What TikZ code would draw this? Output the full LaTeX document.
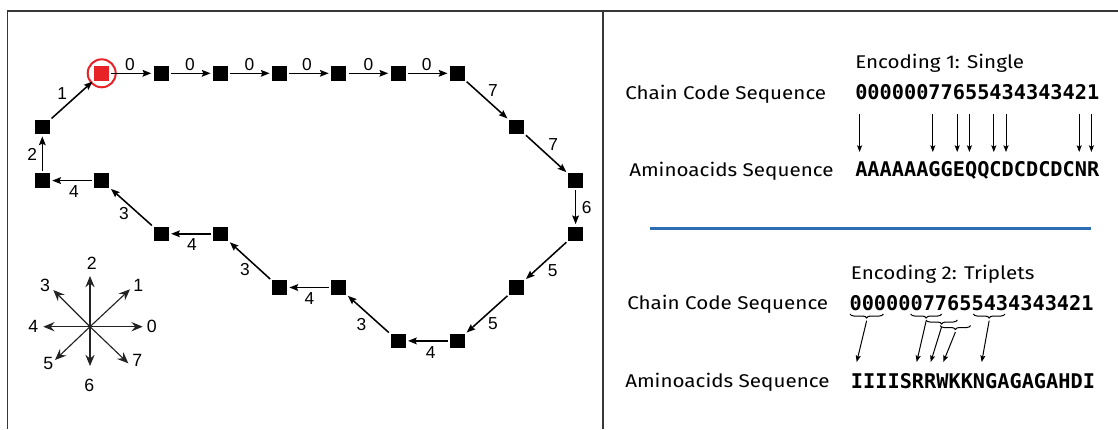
\documentclass[tikz,border=0pt]{standalone}
\usepackage{fontspec}
\setmainfont{Liberation Sans}
\newfontfamily\rsans[FakeStretch=1.12]{Fira Sans}
\newfontfamily\rmono{DejaVu Sans Mono}
\usetikzlibrary{arrows.meta,decorations.pathreplacing}
\definecolor{redc}{RGB}{232,35,40}
\definecolor{bluec}{RGB}{46,109,180}
\definecolor{framec}{RGB}{55,55,55}
\definecolor{compc}{RGB}{35,35,35}
\begin{document}
\begin{tikzpicture}[x=0.75pt,y=-0.75pt,
  sq/.style={fill=black,minimum width=11.25pt,minimum height=10.8pt,inner sep=0pt,outer sep=0pt},
  redsq/.style={fill=redc,minimum width=11pt,minimum height=11pt,inner sep=0pt,outer sep=0pt},
  chainarrow/.style={line width=1.15pt,-{Stealth[length=6.5pt,width=5pt,inset=1pt]},shorten <=1.8pt,shorten >=1.8pt},
  lbl/.style={font=\fontsize{13}{15}\selectfont,inner sep=0pt},
  clbl/.style={font=\fontsize{13.3}{15}\selectfont,inner sep=0pt},
  comp/.style={line width=0.85pt,draw=compc,-{Stealth[length=8.5pt,width=7pt,inset=3pt]}},
  frame/.style={line width=1.1pt,draw=framec},
  rtext/.style={font=\rsans\fontsize{13.8}{15}\selectfont,inner sep=0pt,anchor=base west},
  mtext/.style={font=\rmono\bfseries\fontsize{15.2}{17}\selectfont,inner sep=0pt,anchor=base west},
  encarrow/.style={line width=0.75pt,-{Stealth[length=5pt,width=3.8pt,inset=1pt]}},
  brc/.style={line width=0.75pt,decorate,decoration={brace,mirror,amplitude=3pt}}]
\useasboundingbox (0,0) rectangle (1118,429);

% frames
\draw[frame] (7.5,429) -- (7.5,11) -- (1118,11);
\draw[frame] (603,11) -- (603,429);

% chain nodes
\node[redsq] (n0) at (101.7,73.3) {};
\node[draw=redc,line width=1.5pt,circle,minimum size=21pt,inner sep=0pt] (c0) at (n0) {};
\node[sq] (n1) at (161.2,73.3) {};
\node[sq] (n2) at (220.5,73.3) {};
\node[sq] (n3) at (279.5,73.3) {};
\node[sq] (n4) at (338.6,73.3) {};
\node[sq] (n5) at (398.1,73.3) {};
\node[sq] (n6) at (457.4,73.3) {};
\node[sq] (n7) at (516.7,126.8) {};
\node[sq] (n8) at (575.6,180.6) {};
\node[sq] (n9) at (575.6,233.8) {};
\node[sq] (n10) at (516.7,287.5) {};
\node[sq] (n11) at (457.4,340.9) {};
\node[sq] (n12) at (398.1,340.9) {};
\node[sq] (n13) at (338.6,287.5) {};
\node[sq] (n14) at (279.5,287.5) {};
\node[sq] (n15) at (220.5,233.8) {};
\node[sq] (n16) at (161.2,233.8) {};
\node[sq] (n17) at (101.7,180.6) {};
\node[sq] (n18) at (42.3,180.6) {};
\node[sq] (n19) at (42.3,126.8) {};

% chain arrows
\draw[chainarrow] (n0) -- (n1) node[lbl,midway,shift={(-1.5,-8.5)}] {0};
\draw[chainarrow] (n1) -- (n2) node[lbl,midway,shift={(-1,-8.5)}] {0};
\draw[chainarrow] (n2) -- (n3) node[lbl,midway,shift={(-0.5,-8.5)}] {0};
\draw[chainarrow] (n3) -- (n4) node[lbl,midway,shift={(-2,-8.5)}] {0};
\draw[chainarrow] (n4) -- (n5) node[lbl,midway,shift={(0,-8.5)}] {0};
\draw[chainarrow] (n5) -- (n6) node[lbl,midway,shift={(-1,-8.5)}] {0};
\draw[chainarrow] (n6) -- (n7) node[lbl,midway,shift={(6,-10)}] {7};
\draw[chainarrow] (n7) -- (n8) node[lbl,midway,shift={(7,-9)}] {7};
\draw[chainarrow] (n8) -- (n9) node[lbl,midway,shift={(11,0)}] {6};
\draw[chainarrow] (n9) -- (n10) node[lbl,midway,shift={(6.5,10)}] {5};
\draw[chainarrow] (n10) -- (n11) node[lbl,midway,shift={(6,9)}] {5};
\draw[chainarrow] (n11) -- (n12) node[lbl,midway,shift={(3,11.5)}] {4};
\draw[chainarrow] (n12) -- (n13) node[lbl,midway,shift={(-7,10)}] {3};
\draw[chainarrow] (n13) -- (n14) node[lbl,midway,shift={(0.5,11.5)}] {4};
\draw[chainarrow] (n14) -- (n15) node[lbl,midway,shift={(-5,9)}] {3};
\draw[chainarrow] (n15) -- (n16) node[lbl,midway,shift={(1,11)}] {4};
\draw[chainarrow] (n16) -- (n17) node[lbl,midway,shift={(-7.5,6)}] {3};
\draw[chainarrow] (n17) -- (n18) node[lbl,midway,shift={(2,10.8)}] {4};
\draw[chainarrow] (n18) -- (n19) node[lbl,midway,shift={(-10,1)}] {2};
\draw[chainarrow] (n19) -- (n0) node[lbl,midway,shift={(-10,-6)}] {1};

% compass
\coordinate (cc) at (90,326.7);
\coordinate (d0) at (142.7,326.7);
\coordinate (d1) at (130,289.3);
\coordinate (d2) at (90,276);
\coordinate (d3) at (53.3,290);
\coordinate (d4) at (43.3,326.7);
\coordinate (d5) at (55,360);
\coordinate (d6) at (90,366);
\coordinate (d7) at (128.3,363.3);
\foreach \d in {d0,d1,d2,d3,d4,d5,d6,d7} \draw[comp] (cc) -- (\d);
\node[clbl] (k0) at (151.7,326) {0};
\node[clbl] (k1) at (138.3,285) {1};
\node[clbl] (k2) at (91.7,263.3) {2};
\node[clbl] (k3) at (45,285) {3};
\node[clbl] (k4) at (33.3,326.7) {4};
\node[clbl] (k5) at (48.3,363.3) {5};
\node[clbl] (k6) at (89.3,385) {6};
\node[clbl] (k7) at (137.3,360) {7};

% right panel: encoding 1
\node[rtext] (t1) at (855,68.3) {Encoding 1: Single};
\node[rtext] (cc1) at (625,99) {Chain Code Sequence};
\node[mtext] (s1) at (855,99) {00000077655434343421};
\node[rtext] (a1) at (629,176.5) {Aminoacids Sequence};
\node[mtext] (p1) at (855,176.5) {AAAAAAGGEQQCDCDCDCNR};
\foreach \i in {0,6,8,9,11,12,18,19} {
  \coordinate (u\i) at ({855+12.2*(\i+0.5)-1.5},114);
  \coordinate (v\i) at ({855+12.2*(\i+0.5)-1.5},152);
  \draw[encarrow] (u\i) -- (v\i);
}

% separator
\draw[bluec,line width=2.7pt] (650,228.5) -- (1090.5,228.5);

% right panel: encoding 2
\node[rtext] (t2) at (850.7,279.3) {Encoding 2: Triplets};
\node[rtext] (cc2) at (627,309) {Chain Code Sequence};
\node[mtext] (s2) at (849.3,310) {00000077655434343421};
\node[rtext] (a2) at (625,387) {Aminoacids Sequence};
\node[mtext] (p2) at (850.7,388) {IIIISRRWKKNGAGAGAHDI};

\draw[brc] (850,314) -- (883.3,314) coordinate[midway] (b1);
\draw[brc] (910.7,314) -- (941.7,314) coordinate[midway] (b2);
\draw[brc] (926,320) -- (957.3,320) coordinate[midway] (b3);
\draw[brc] (940,325.5) -- (970.7,325.5) coordinate[midway] (b4);
\draw[brc] (973.3,314) -- (1005,314) coordinate[midway] (b5);
\coordinate (w1) at (856.7,362);
\coordinate (w2) at (916.7,362);
\coordinate (w3) at (930.7,362);
\coordinate (w4) at (943.3,362);
\coordinate (w5) at (981.7,362);
\draw[encarrow] ([yshift=-5pt]b1) -- (w1);
\draw[encarrow] ([yshift=-5pt]b2) -- (w2);
\draw[encarrow] ([yshift=-5pt]b3) -- (w3);
\draw[encarrow] ([yshift=-5pt]b4) -- (w4);
\draw[encarrow] ([yshift=-5pt]b5) -- (w5);
\end{tikzpicture}
\end{document}
